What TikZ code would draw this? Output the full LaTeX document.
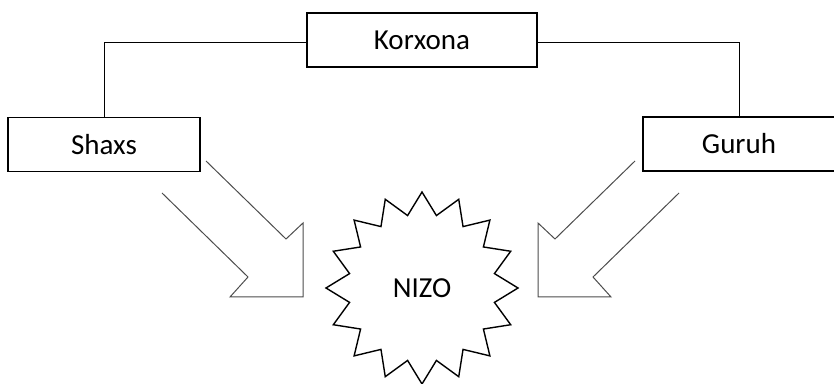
\documentclass[tikz,border=0pt]{standalone}
\usepackage{fontspec}
\setmainfont{Carlito}
\usepackage{tikz}
\usetikzlibrary{shapes.geometric, positioning}
\tikzstyle{unitbox}  = [rectangle, draw=black, line width=0.7pt, minimum width=96pt,
                        minimum height=27pt, inner sep=0pt, fill=white]
\tikzstyle{link}     = [draw=black, line width=0.5pt]
\tikzstyle{burst}    = [star, star points=16, star point ratio=1.30, minimum size=96pt,
                        draw=black, line width=0.7pt, inner sep=0pt]
\tikzstyle{bigarrow} = [draw=black!70, line width=0.5pt, line join=miter]

\begin{document}
\begin{tikzpicture}[x=0.5pt, y=0.5pt, font=\fontsize{14.5}{17}\selectfont]
  \useasboundingbox (0,0) rectangle (834,384);

  %% top box and the two side boxes
  \node[unitbox, minimum width=115pt] (korxona) at (422,344) {Korxona};
  \node[unitbox] (shaxs) at (104,239.5) {Shaxs};
  \node[unitbox] (guruh) at (739,240) {Guruh};

  %% links from the top box
  \draw[link] ([yshift=-1.5pt]korxona.west) -| (shaxs.north);
  \draw[link] ([yshift=-1.5pt]korxona.east) -| (guruh.north);

  %% centre star
  \node[burst] (nizo) at (422,96) {NIZO};

  %% block arrows pointing at the star
  \draw[bigarrow] (206,223) -- (286,145) -- (303,161) -- (303,87)
                  -- (230,87) -- (248,107) -- (162,191);
  \draw[bigarrow] (635,223) -- (555,145) -- (538,161) -- (538,87)
                  -- (611,87) -- (593,107) -- (679,191);

\end{tikzpicture}
\end{document}
